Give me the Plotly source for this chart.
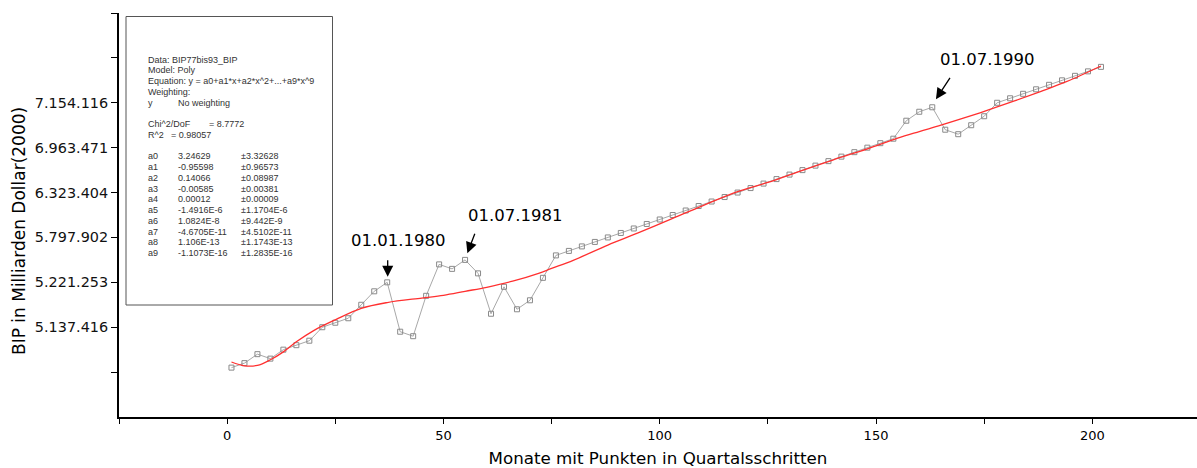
import plotly.graph_objects as go

# ---------------- data ----------------
months = [1, 4, 7, 10, 13, 16, 19, 22, 25, 28, 31, 34, 37, 40, 43, 46, 49, 52, 55, 58,
          61, 64, 67, 70, 73, 76, 79, 82, 85, 88, 91, 94, 97, 100, 103, 106, 109, 112,
          115, 118, 121, 124, 127, 130, 133, 136, 139, 142, 145, 148, 151, 154, 157,
          160, 163, 166, 169, 172, 175, 178, 181, 184, 187, 190, 193, 196, 199, 202]
bip = [2.2, 2.4, 2.8, 2.6, 3.0, 3.2, 3.4, 4.0, 4.2, 4.4, 5.0, 5.6, 6.0, 3.8, 3.6, 5.4,
       6.8, 6.6, 7.0, 6.4, 4.6, 5.8, 4.8, 5.2, 6.2, 7.2, 7.4, 7.6, 7.8, 8.0, 8.2, 8.4,
       8.6, 8.8, 9.0, 9.2, 9.4, 9.6, 9.8, 10.0, 10.2, 10.4, 10.6, 10.8, 11.0, 11.2,
       11.4, 11.6, 11.8, 12.0, 12.2, 12.4, 13.2, 13.6, 13.8, 12.8, 12.6, 13.0, 13.4,
       14.0, 14.2, 14.4, 14.6, 14.8, 15.0, 15.2, 15.4, 15.6]

fit_x = [1, 4, 7, 10, 13, 16, 20, 25, 31, 37, 45, 50, 55, 60, 66, 72, 75, 80, 88, 95,
         103, 110, 118, 125, 132, 140, 148, 155, 160, 165, 170, 176, 182, 188, 194, 202]
fit_y = [2.45, 2.28, 2.3, 2.55, 2.9, 3.35, 3.85, 4.33, 4.84, 5.1, 5.3, 5.42, 5.6, 5.78,
         6.05, 6.4, 6.62, 6.98, 7.66, 8.2, 8.85, 9.42, 10.04, 10.45, 10.92, 11.45,
         11.95, 12.43, 12.72, 13.0, 13.3, 13.68, 14.08, 14.5, 14.94, 15.64]

y_tickvals = [2, 4, 6, 8, 10, 12, 14, 16, 18]
y_ticktext = ["", "5.137.416", "5.221.253", "5.797.902", "6.323.404", "6.963.471",
              "7.154.116", "", ""]
x_tickvals = [-25, 0, 25, 50, 75, 100, 125, 150, 175, 200]
x_ticktext = ["", "0", "", "50", "", "100", "", "150", "", "200"]

events = ["01.01.1980", "01.07.1981", "01.07.1990"]
event_index = [12, 18, 54]

header_lines = ["Data: BIP77bis93_BIP", "Model: Poly",
                "Equation: y = a0+a1*x+a2*x^2+...+a9*x^9", "Weighting:"]
param_names = ["a0", "a1", "a2", "a3", "a4", "a5", "a6", "a7", "a8", "a9"]
param_values = ["3.24629", "-0.95598", "0.14066", "-0.00585", "0.00012", "-1.4916E-6",
                "1.0824E-8", "-4.6705E-11", "1.106E-13", "-1.1073E-16"]
param_errors = ["\u00b13.32628", "\u00b10.96573", "\u00b10.08987", "\u00b10.00381",
                "\u00b10.00009", "\u00b11.1704E-6", "\u00b19.442E-9", "\u00b14.5102E-11",
                "\u00b11.1743E-13", "\u00b11.2835E-16"]

# ---------------- layout helpers ----------------
W, H = 1197, 468
L, R, T, B = 119, 0, 13, 51
PW, PH = W - L - R, H - T - B
XMAX = 224.2


def pxx(px):
    return (px - L) / PW


def pyy(py):
    return (H - B - py) / PH


fig = go.Figure()
fig.add_trace(go.Scatter(
    x=months, y=bip, mode="lines+markers",
    line=dict(color="#a8a8a8", width=1),
    marker=dict(symbol="square-open", size=5, color="#8a8a8a", line=dict(width=1)),
    showlegend=False))
fig.add_trace(go.Scatter(
    x=fit_x, y=fit_y, mode="lines",
    line=dict(color="#ff3030", width=1.3, shape="spline", smoothing=1.0),
    showlegend=False))

ann = []
# event labels and arrows
label_shift = [(11, 42), (50, 44), (55, 48)]
arrow_head = [(0.5, 5.5), (2.3, 6.7), (3.7, 8.0)]
arrow_tail = [(0, -18), (8, -21), (15, -23)]
DX = PW / (XMAX + 25)
DY = PH / 18.0
for name, idx, (sx, sy), (hx, hy), (tx, ty) in zip(events, event_index, label_shift,
                                                    arrow_head, arrow_tail):
    ann.append(dict(x=months[idx], y=bip[idx], xref="x", yref="y", text=name,
                    showarrow=False, xshift=sx, yshift=sy,
                    font=dict(family="DejaVu Sans", size=16.5, color="#000000")))
    ann.append(dict(x=months[idx] + hx / DX, y=bip[idx] + hy / DY, xref="x", yref="y",
                    text="", showarrow=True, ax=tx, ay=ty, arrowhead=2, arrowsize=1.7,
                    arrowwidth=1.3, arrowcolor="#000000", standoff=0))

# fit result box
box_font = dict(family="Liberation Sans", size=9, color="#333333")
line_y0, line_dy = 59.7, 10.75
col1, col2, col3 = 147, 177, 240


def box_text(col, line, text):
    ann.append(dict(x=pxx(col), y=pyy(line_y0 + line_dy * line), xref="paper",
                    yref="paper", text=text, showarrow=False, xanchor="left",
                    yanchor="middle", font=box_font, borderpad=0))


for i, t in enumerate(header_lines):
    box_text(col1, i, t)
box_text(col1, 4, "y")
box_text(col2, 4, "No weighting")
box_text(col1, 6, "Chi^2/DoF")
box_text(208, 6, "= 8.7772")
box_text(col1, 7, "R^2")
box_text(170, 7, "= 0.98057")
for k, (n, v, e) in enumerate(zip(param_names, param_values, param_errors)):
    box_text(col1, 9 + k, n)
    box_text(col2, 9 + k, v)
    box_text(col3, 9 + k, e)

# y axis title (annotation so that it can sit where the original has it)
ann.append(dict(x=pxx(19), y=pyy(231), xref="paper", yref="paper",
                xanchor="center", yanchor="middle",
                text="BIP in Milliarden Dollar(2000)", textangle=-90, showarrow=False,
                font=dict(family="DejaVu Sans", size=17, color="#000000")))

fig.update_layout(
    width=W, height=H, autosize=False,
    margin=dict(l=L, r=R, t=T, b=B),
    paper_bgcolor="white", plot_bgcolor="white",
    showlegend=False,
    annotations=ann,
    shapes=[dict(type="rect", xref="paper", yref="paper",
                 x0=pxx(126), x1=pxx(332.5), y0=pyy(305), y1=pyy(16.5),
                 line=dict(color="#555555", width=1), fillcolor="rgba(0,0,0,0)")],
    xaxis=dict(range=[-25, XMAX], tickvals=x_tickvals, ticktext=x_ticktext,
               showgrid=False, zeroline=False, showline=True, linecolor="#000000",
               linewidth=2, ticks="outside", ticklen=5, tickwidth=1.3,
               tickcolor="#000000",
               tickfont=dict(family="DejaVu Sans", size=13, color="#000000"),
               title=dict(text="Monate mit Punkten in Quartalsschritten", standoff=11,
                          font=dict(family="DejaVu Sans", size=16.7, color="#000000"))),
    yaxis=dict(range=[0, 18], tickvals=y_tickvals, ticktext=y_ticktext,
               showgrid=False, zeroline=False, showline=True, linecolor="#000000",
               linewidth=2, ticks="outside", ticklen=6, tickwidth=1.3,
               tickcolor="#000000",
               tickfont=dict(family="DejaVu Sans", size=14.4, color="#111111")),
)

fig.write_html(
    "out.html",
    config={"displayModeBar": False},
    post_script="document.body.style.margin='0';document.body.style.overflow='hidden';")
